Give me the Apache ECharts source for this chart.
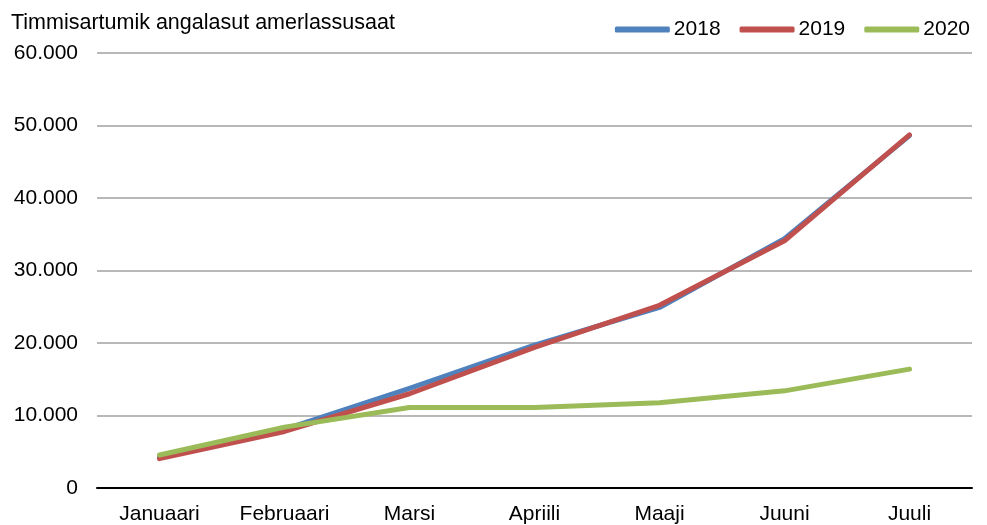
<!DOCTYPE html>
<html>
<head>
<meta charset="utf-8">
<script src="https://cdn.jsdelivr.net/npm/echarts@6/dist/echarts.min.js"></script>
<style>
  html, body { margin: 0; padding: 0; background: #fff; }
  #chart { width: 987px; height: 525px; }
</style>
</head>
<body>
<div id="chart"></div>
<script>
// data
const months = ["Januaari", "Februaari", "Marsi", "Apriili", "Maaji", "Juuni", "Juuli"];
const y2018 = [4200, 8100, 13750, 19700, 24900, 34400, 48600];
const y2019 = [4050, 7800, 13000, 19400, 25200, 34100, 48700];
const y2020 = [4550, 8400, 11100, 11100, 11750, 13400, 16400];

const chart = echarts.init(document.getElementById("chart"));

const font = "Liberation Sans, Arial, sans-serif";

function line(name, data, color) {
  return {
    name: name,
    type: "line",
    data: data,
    symbol: "none",
    lineStyle: { width: 5, color: color, cap: "round", join: "round" },
    itemStyle: { color: color }
  };
}

chart.setOption({
  animation: false,
  textStyle: { fontFamily: font },
  title: {
    text: "Timmisartumik angalasut amerlassusaat",
    left: 6, top: 7,
    textStyle: { fontSize: 21.5, fontWeight: "normal", color: "#000", fontFamily: font }
  },
  legend: {
    right: 12, top: 14,
    itemWidth: 55, itemHeight: 6, itemGap: 19,
    icon: "roundRect",
    textStyle: { fontSize: 21, color: "#000", fontFamily: font, padding: [0, 0, 0, -1] },
    data: ["2018", "2019", "2020"]
  },
  grid: { left: 97, right: 15, top: 53, bottom: 37 },
  xAxis: {
    type: "category",
    data: months,
    boundaryGap: true,
    axisLine: { lineStyle: { color: "#000", width: 2 } },
    axisTick: { show: false },
    axisLabel: { fontSize: 21, color: "#000", margin: 16, fontFamily: font }
  },
  yAxis: {
    type: "value",
    min: 0, max: 60000, interval: 10000,
    axisLine: { show: false },
    axisTick: { show: false },
    splitLine: { lineStyle: { color: "#a0a0a0", width: 1.5 } },
    axisLabel: {
      fontSize: 21, color: "#000", margin: 19, fontFamily: font,
      formatter: v => v === 0 ? "0" : (v / 1000).toFixed(3)
    }
  },
  series: [
    line("2018", y2018, "#4f81bd"),
    line("2019", y2019, "#c0504d"),
    line("2020", y2020, "#9bbb59")
  ]
});
</script>
</body>
</html>
